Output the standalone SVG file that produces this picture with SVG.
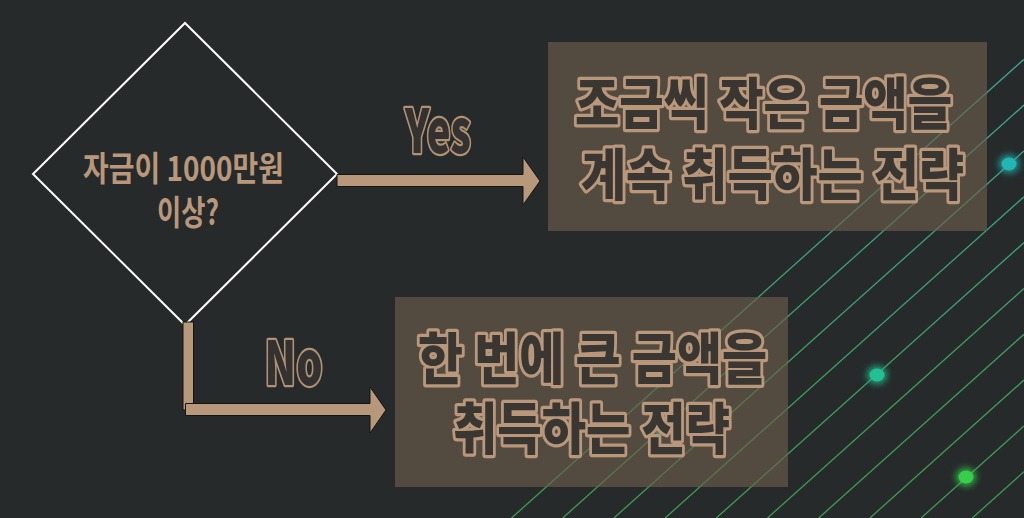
<svg xmlns="http://www.w3.org/2000/svg" width="1024" height="518" viewBox="0 0 1024 518">
<defs>
<style>
.bg{fill:#262a2b}
.ln{stroke:url(#lg);stroke-width:1.3;fill:none}
.box{fill:#6c5d4c;fill-opacity:0.65}
.arr{fill:#b8987a;stroke:#151515;stroke-width:1}
.q{font-family:"Noto Sans CJK KR","Noto Sans",sans-serif;font-weight:700;fill:#b9977a}
.lbl{font-family:"Noto Sans CJK KR","Noto Sans",sans-serif;font-weight:900;fill:#343230;stroke:#b09273;stroke-width:4.5;paint-order:stroke;stroke-linejoin:round}
.bt{font-family:"Noto Sans CJK KR","Noto Sans",sans-serif;font-weight:900;fill:#3a3733;stroke:#b9977a;stroke-width:6.5;paint-order:stroke;stroke-linejoin:round}
.glow{filter:url(#glow);opacity:0.85}
</style>
<linearGradient id="lg" gradientUnits="userSpaceOnUse" x1="0" y1="60" x2="0" y2="470">
<stop offset="0" stop-color="#3aa895"/>
<stop offset="1" stop-color="#3c9c50"/>
</linearGradient>
<filter id="glow" x="-1" y="-1" width="3" height="3"><feGaussianBlur stdDeviation="3.5"/></filter>
</defs>
<rect class="bg" x="0" y="0" width="1024" height="518"/>
<g id="background-lines">
<line class="ln" x1="511.5" y1="518" x2="1024" y2="59.3"/>
<line class="ln" x1="562.7" y1="518" x2="1024" y2="105.1"/>
<line class="ln" x1="613.9" y1="518" x2="1024" y2="151.0"/>
<line class="ln" x1="665.1" y1="518" x2="1024" y2="196.8"/>
<line class="ln" x1="716.3" y1="518" x2="1024" y2="242.6"/>
<line class="ln" x1="767.5" y1="518" x2="1024" y2="288.4"/>
<line class="ln" x1="818.7" y1="518" x2="1024" y2="334.3"/>
<line class="ln" x1="869.9" y1="518" x2="1024" y2="380.1"/>
<line class="ln" x1="921.1" y1="518" x2="1024" y2="425.9"/>
<line class="ln" x1="972.3" y1="518" x2="1024" y2="471.7"/>
</g>
<g id="background-dots">
<ellipse class="glow" cx="1009" cy="164" rx="10" ry="9" fill="#21b5b3"/>
<ellipse cx="1009" cy="164" rx="7.5" ry="6.5" fill="#21b5b3"/>
<ellipse class="glow" cx="877" cy="375" rx="10" ry="9" fill="#22c194"/>
<ellipse cx="877" cy="375" rx="7.5" ry="6.5" fill="#22c194"/>
<ellipse class="glow" cx="966" cy="477" rx="10" ry="9" fill="#35cf4c"/>
<ellipse cx="966" cy="477" rx="7.5" ry="6.5" fill="#35cf4c"/>
<ellipse cx="661" cy="431" rx="6" ry="5" fill="#22b8b0"/>
</g>
<g id="decision">
<polygon points="185,23 337,174 185,325 33,174" fill="#262a2b" stroke="#ffffff" stroke-width="2"/>
<text class="q" x="83" y="181" font-size="34" textLength="201" lengthAdjust="spacingAndGlyphs">자금이 1000만원</text>
<text class="q" x="157" y="225" font-size="34" textLength="62" lengthAdjust="spacingAndGlyphs">이상?</text>
</g>
<g id="strategy-small">
<rect class="box" x="548" y="42" width="439" height="189"/>
<text class="bt" x="575" y="124" font-size="56" textLength="377" lengthAdjust="spacingAndGlyphs">조금씩 작은 금액을</text>
<text class="bt" x="581" y="195" font-size="56" textLength="383" lengthAdjust="spacingAndGlyphs">계속 취득하는 전략</text>
</g>
<g id="strategy-large">
<rect class="box" x="395" y="297" width="393" height="190"/>
<text class="bt" x="418" y="379" font-size="56" textLength="349" lengthAdjust="spacingAndGlyphs">한 번에 큰 금액을</text>
<text class="bt" x="453" y="449" font-size="56" textLength="277" lengthAdjust="spacingAndGlyphs">취득하는 전략</text>
</g>
<g id="connectors">
<polygon class="arr" points="337,174.5 523,174.5 523,157 540,181 523,205 523,186.5 337,186.5"/>
<rect class="arr" x="183" y="322" width="10.5" height="88"/>
<polygon class="arr" points="185.5,403.5 370,403.5 370,387 386,410 370,433 370,415.5 185.5,415.5"/>
<text class="lbl" x="405" y="153" font-size="60" textLength="66" lengthAdjust="spacingAndGlyphs">Yes</text>
<text class="lbl" x="264.5" y="385" font-size="60" textLength="58" lengthAdjust="spacingAndGlyphs">No</text>
</g>
</svg>
